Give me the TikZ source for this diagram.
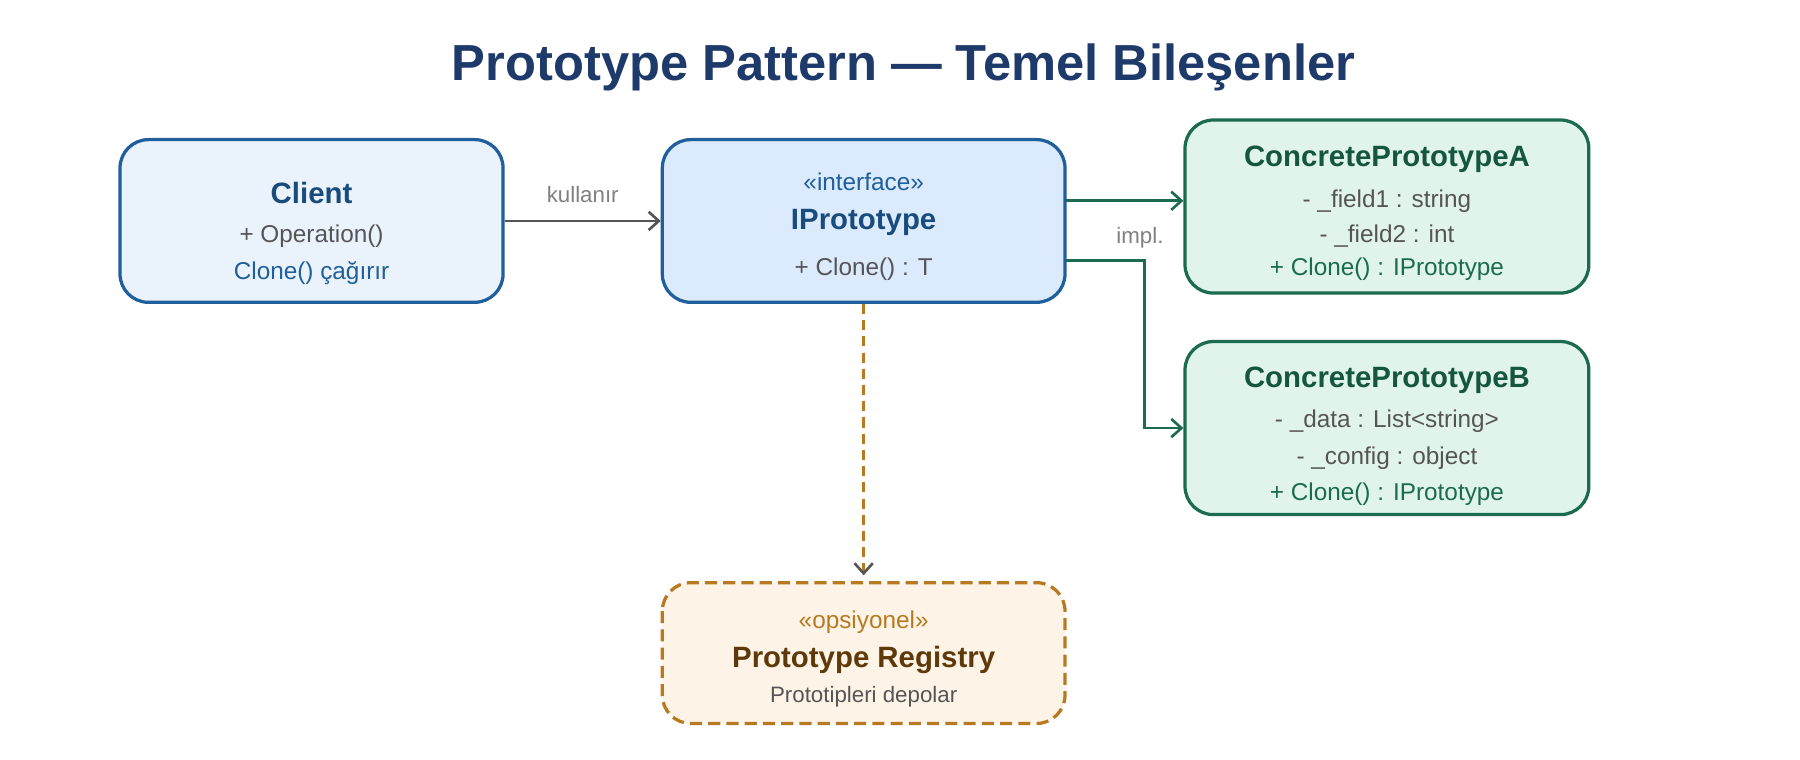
\documentclass[tikz,border=0pt]{standalone}
\usepackage{fontspec}
\setmainfont{Liberation Sans}
\usetikzlibrary{arrows.meta,positioning}
\definecolor{cliBlue}{HTML}{1F5F9C}
\definecolor{cliFill}{HTML}{EAF3FC}
\definecolor{ifcFill}{HTML}{DBEAFC}
\definecolor{conGreen}{HTML}{1A6B50}
\definecolor{conFill}{HTML}{E0F4EC}
\definecolor{regOrange}{HTML}{B87A20}
\definecolor{regFill}{HTML}{FDF3E6}
\definecolor{regText}{HTML}{5E3A0A}
\definecolor{ttlBlue}{HTML}{1D3A6B}
\definecolor{txtGray}{HTML}{555555}
\tikzset{
  box/.style={rounded corners=14pt,line width=1.6pt,inner sep=0pt},
  clsname/.style={font=\bfseries\fontsize{14.5}{16}\selectfont},
  row/.style={font=\fontsize{12}{14}\selectfont,text=txtGray},
  lbl/.style={font=\fontsize{11}{13}\selectfont,text=gray},
  conn/.style={line width=1.3pt,-{Straight Barb[length=5pt,width=9pt]}}
}
\begin{document}
\begin{tikzpicture}[x=0.02cm,y=-0.02cm]
\useasboundingbox (0,0) rectangle (1560,658);
\node[font=\bfseries\fontsize{25}{30}\selectfont,text=ttlBlue] (title) at (783,58) {Prototype Pattern — Temel Bileşenler};

% boxes
\draw[box,draw=cliBlue,fill=cliFill] (104,121) rectangle (436,262);
\node[box,minimum width=6.64cm,minimum height=2.82cm] (client) at (270,191.5) {};
\draw[box,draw=cliBlue,fill=ifcFill] (574,121) rectangle (923,262);
\node[box,minimum width=6.98cm,minimum height=2.82cm] (iproto) at (748.5,191.5) {};
\draw[box,draw=conGreen,fill=conFill] (1027,104) rectangle (1377,254);
\node[box,minimum width=7cm,minimum height=3cm] (protoA) at (1202,179) {};
\draw[box,draw=conGreen,fill=conFill] (1027,296) rectangle (1377,446);
\node[box,minimum width=7cm,minimum height=3cm] (protoB) at (1202,371) {};
\draw[box,draw=regOrange,fill=regFill,dash pattern=on 6pt off 3pt] (574,505) rectangle (923,627);
\node[box,minimum width=6.98cm,minimum height=2.44cm] (registry) at (748.5,566) {};

% texts
\node[clsname,text=cliBlue!80!black] at (270,167) {Client};
\node[row] at (270,205) {+ Operation()};
\node[row,text=cliBlue] at (270,237) {Clone() çağırır};

\node[row,text=cliBlue] at (748.5,158) {«interface»};
\node[clsname,text=cliBlue!80!black] at (748.5,193) {IPrototype};
\node[row] at (748.5,233) {+ Clone() : T};

\node[clsname,text=conGreen!80!black] at (1202,138) {ConcretePrototypeA};
\node[row] at (1202,174) {- \_field1 : string};
\node[row] at (1202,205) {- \_field2 : int};
\node[row,text=conGreen] at (1202,233) {+ Clone() : IPrototype};

\node[clsname,text=conGreen!80!black] at (1202,330) {ConcretePrototypeB};
\node[row] at (1202,365) {- \_data : List<string>};
\node[row] at (1202,397) {- \_config : object};
\node[row,text=conGreen] at (1202,428) {+ Clone() : IPrototype};

\node[row,text=regOrange] at (748.5,539) {«opsiyonel»};
\node[clsname,text=regText] at (748.5,572) {Prototype Registry};
\node[row,font=\fontsize{11}{13}\selectfont] at (748.5,604) {Prototipleri depolar};

% connectors
\draw[conn,draw=txtGray] (client.east) -- (iproto.west) node[lbl,midway,above=5pt] {kullanır};
\coordinate (aOut) at (923,174);
\coordinate (bOut) at (923,226);
\draw[conn,draw=conGreen] (aOut) -- (aOut -| protoA.west);
\draw[conn,draw=conGreen] (bOut) -- (992,226) |- (protoB.west);
\node[lbl] (impl) at (988,206) {impl.};
\draw[line width=1.3pt,draw=regOrange,dash pattern=on 5pt off 3pt,-{Straight Barb[length=5pt,width=9pt,color=txtGray]}] (iproto.south) -- ([yshift=0.1cm]registry.north);
\end{tikzpicture}
\end{document}
